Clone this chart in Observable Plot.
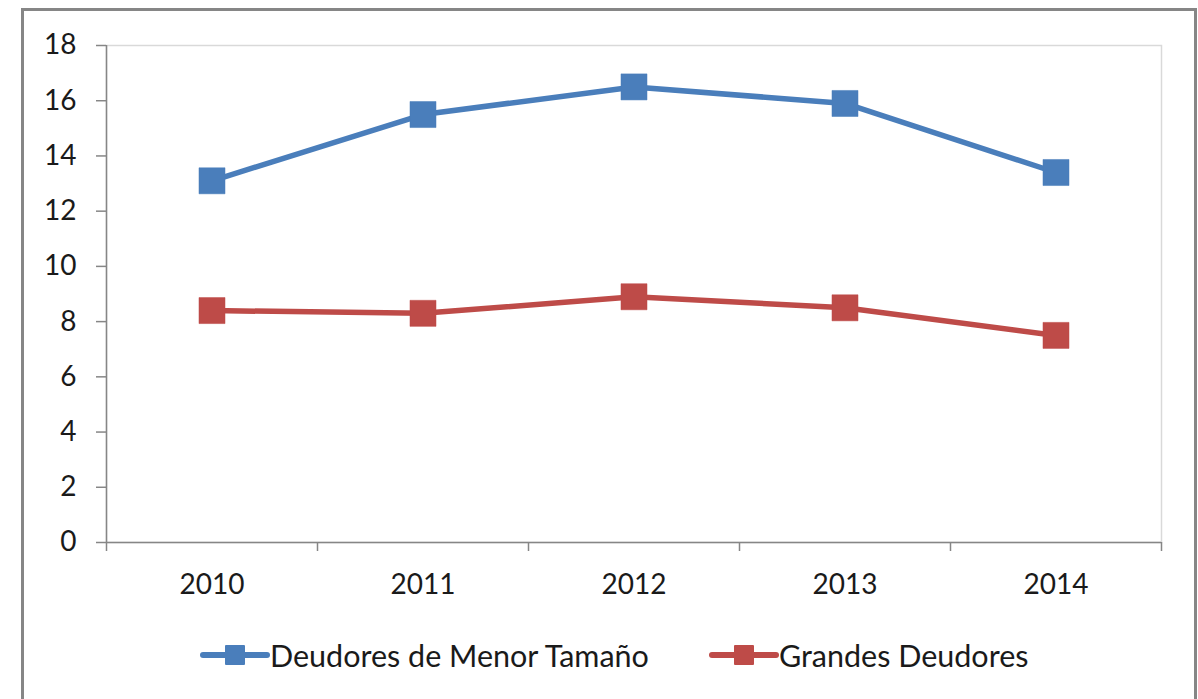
<!DOCTYPE html>
<html>
<head>
<meta charset="utf-8">
<script src="https://cdn.jsdelivr.net/npm/d3@7"></script>
<script src="https://cdn.jsdelivr.net/npm/@observablehq/plot@0.6"></script>
<style>
  html, body { margin: 0; padding: 0; background: #fff; width: 1198px; height: 699px; overflow: hidden; }
  #frame { position: absolute; left: 21px; top: 8px; width: 1170px; height: 720px; border: 3px solid #868686; box-sizing: content-box; }
  #chart { position: absolute; left: 0; top: 0; }
  #legend { position: absolute; left: 176px; top: 626px; display: flex; gap: 60px; align-items: center;
            font-family: Lato, "Open Sans", sans-serif; font-size: 30.5px; color: #1a1a1a; }
  .item { display: flex; align-items: center; }
  .item svg { display: block; }
</style>
</head>
<body>
<div id="frame">
  <div id="chart"></div>
  <div id="legend"></div>
</div>
<script>
const years = [2010, 2011, 2012, 2013, 2014];
const menorTamano = [13.1, 15.5, 16.5, 15.9, 13.4];
const grandes = [8.4, 8.3, 8.9, 8.5, 7.5];
const seriesNames = ["Deudores de Menor Tamaño", "Grandes Deudores"];
const seriesColors = ["#4a7ebb", "#be4b48"];
const yTicks = [0, 2, 4, 6, 8, 10, 12, 14, 16, 18];

const data = [];
years.forEach((y, i) => {
  data.push({year: y, value: menorTamano[i], series: seriesNames[0]});
  data.push({year: y, value: grandes[i], series: seriesNames[1]});
});
const boundaries = [years[0] - 0.5, ...years.map(y => y + 0.5)];

const font = "Lato, 'Open Sans', sans-serif";
const axisColor = "#868686";

const chart = Plot.plot({
  width: 1170,
  height: 600,
  marginLeft: 82,
  marginRight: 33,
  marginTop: 34,
  marginBottom: 69,
  style: {fontFamily: font, fontSize: "28px", color: "#1a1a1a", background: "transparent"},
  x: {domain: [boundaries[0], boundaries[boundaries.length - 1]]},
  y: {domain: [0, 18]},
  color: {domain: seriesNames, range: seriesColors},
  marks: [
    Plot.frame({stroke: "#d9d9d9", strokeWidth: 1.5}),
    Plot.axisY({ticks: yTicks, tickSize: 10, tickPadding: 20, stroke: axisColor, strokeWidth: 1.5, label: null, fontSize: 28}),
    Plot.ruleX([boundaries[0]], {stroke: axisColor, strokeWidth: 1.5}),
    Plot.axisX({ticks: boundaries, tickSize: 9, tickFormat: () => "", stroke: axisColor, strokeWidth: 1.5, label: null}),
    Plot.axisX({ticks: years, tickSize: 0, tickPadding: 32, tickFormat: d => String(d), label: null, fontSize: 28}),
    Plot.ruleY([0], {stroke: axisColor, strokeWidth: 1.5}),
    Plot.line(data, {x: "year", y: "value", stroke: "series", z: "series", strokeWidth: 5.5, strokeLinejoin: "round"}),
    Plot.dot(data, {x: "year", y: "value", fill: "series", symbol: "square", r: 14.7, stroke: "series", strokeWidth: 0.5})
  ]
});
document.getElementById("chart").appendChild(chart);

const legend = document.getElementById("legend");
seriesNames.forEach((name, i) => {
  const item = document.createElement("div");
  item.className = "item";
  const c = seriesColors[i];
  item.innerHTML = `<svg width="70" height="30"><line x1="3" x2="67" y1="15" y2="15" stroke="${c}" stroke-width="6" stroke-linecap="round"/><rect x="25" y="5" width="20" height="20" fill="${c}" rx="1"/></svg><span>${name}</span>`;
  legend.appendChild(item);
});
</script>
</body>
</html>
